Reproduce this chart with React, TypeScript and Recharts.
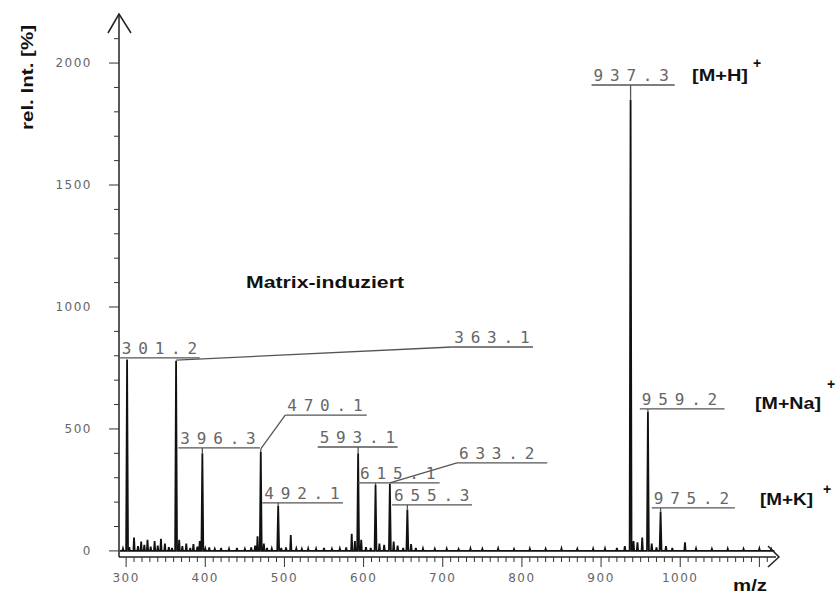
import React from 'react';
import { ComposedChart, Line, Scatter, XAxis, YAxis, ReferenceLine } from 'recharts';

// labelled peaks (m/z, relative intensity)
const peakMz = [301.2, 363.1, 396.3, 470.1, 492.1, 593.1, 615.1, 633.2, 655.3, 937.3, 959.2, 975.2];
const peakInt = [785, 780, 400, 405, 185, 400, 270, 275, 170, 1850, 570, 160];

// small unlabelled peaks / baseline noise
const minorMz = [296, 304, 310, 315, 319, 323, 327, 331, 336, 340, 344, 349, 354, 358, 367, 371, 376, 381, 385, 390, 393, 400, 405, 412, 420, 430, 440, 450, 458, 463, 466, 474, 478, 484, 496, 502, 508, 515, 522, 530, 540, 550, 560, 570, 578, 585, 589, 597, 603, 609, 620, 626, 638, 643, 650, 660, 666, 675, 690, 705, 720, 735, 750, 770, 790, 810, 830, 850, 870, 890, 905, 920, 930, 941, 946, 952, 964, 970, 982, 990, 1006, 1020, 1040, 1060, 1080, 1100, 1115];
const minorInt = [10, 15, 55, 20, 38, 25, 45, 18, 40, 22, 50, 30, 15, 12, 45, 20, 30, 12, 28, 18, 40, 10, 14, 8, 12, 9, 12, 8, 14, 22, 60, 30, 12, 10, 12, 14, 65, 10, 8, 10, 9, 12, 8, 10, 14, 70, 40, 45, 15, 12, 30, 25, 38, 22, 12, 28, 12, 10, 8, 9, 7, 10, 8, 10, 7, 9, 8, 10, 8, 9, 10, 12, 20, 40, 35, 55, 30, 14, 20, 12, 35, 10, 8, 9, 8, 10, 7];

// peak annotations: underline from..to at level, plus leader segments
const labels = [
  { text: '301.2', from: 292, to: 393, level: 791, leaders: [] as number[][][] },
  { text: '363.1', from: 712, to: 814, level: 836, leaders: [[[363.1, 782], [712, 836]]] },
  { text: '396.3', from: 366, to: 469, level: 422, leaders: [[[396.3, 422], [396.3, 400]]] },
  { text: '470.1', from: 501, to: 604, level: 557, leaders: [[[470.1, 418], [501, 557]], [[470.1, 418], [470.1, 405]]] },
  { text: '492.1', from: 472, to: 574, level: 197, leaders: [[[492.1, 197], [492.1, 185]]] },
  { text: '593.1', from: 542, to: 643, level: 426, leaders: [[[593.1, 426], [593.1, 400]]] },
  { text: '615.1', from: 593, to: 696, level: 279, leaders: [[[615.1, 279], [615.1, 270]]] },
  { text: '633.2', from: 718, to: 832, level: 361, leaders: [[[633.2, 279], [718, 361]]] },
  { text: '655.3', from: 636, to: 737, level: 189, leaders: [[[655.3, 189], [655.3, 170]]] },
  { text: '937.3', from: 888, to: 993, level: 1910, leaders: [[[937.3, 1910], [937.3, 1850]]] },
  { text: '959.2', from: 949, to: 1056, level: 582, leaders: [[[959.2, 582], [959.2, 570]]] },
  { text: '975.2', from: 964, to: 1069, level: 176, leaders: [[[975.2, 176], [975.2, 160]]] },
];

const xTicks = Array.from({ length: 82 }, (_, k) => 300 + k * 10);
const yTicks = Array.from({ length: 22 }, (_, k) => k * 100);

const spectrum = (() => {
  const pts: { mz: number; i: number }[] = [{ mz: 292, i: 0 }, { mz: 1119, i: 0 }];
  peakMz.forEach((m, k) => {
    pts.push({ mz: m - 1.2, i: 0 }, { mz: m, i: peakInt[k] }, { mz: m + 1.2, i: 0 });
  });
  minorMz.forEach((m, k) => {
    pts.push({ mz: m - 0.8, i: 0 }, { mz: m, i: minorInt[k] }, { mz: m + 0.8, i: 0 });
  });
  return pts.sort((a, b) => a.mz - b.mz);
})();

const labelPoints = labels.map((l) => ({ mz: l.from, i: l.level, text: l.text }));

const XTick = (props: any) => {
  const { x, y, payload } = props;
  const v = payload.value;
  const major = v % 100 === 0;
  return (
    <g>
      <line x1={x} x2={x} y1={y} y2={y + (major ? 10 : 5)} stroke="#333" strokeWidth={1} />
      {major && v <= 1000 && (
        <text x={x} y={y + 25} textAnchor="middle" fontFamily="DejaVu Sans" fontSize={12} letterSpacing={1.5} fill="#666">
          {v}
        </text>
      )}
    </g>
  );
};

const YTick = (props: any) => {
  const { x, y, payload } = props;
  const v = payload.value;
  const major = v % 500 === 0;
  return (
    <g>
      <line x1={x - (major ? 10 : 5)} x2={x} y1={y} y2={y} stroke="#333" strokeWidth={1} />
      {major && (
        <text x={x - 27} y={y + 4} textAnchor="end" fontFamily="DejaVu Sans" fontSize={12} letterSpacing={1.5} fill="#666">
          {v}
        </text>
      )}
    </g>
  );
};

const PeakLabel = (props: any) => {
  const { cx, cy, payload } = props;
  return (
    <text x={cx + 2} y={cy - 4} fontFamily="DejaVu Sans Mono" fontSize={16} letterSpacing={6.8} fill="#666">
      {payload.text}
    </text>
  );
};

const bold = { fontFamily: 'Liberation Sans, Arial, sans-serif', fontWeight: 700, fill: '#111' } as const;

export default function App() {
  return (
    <div style={{ position: 'absolute', left: 0, top: 0, width: 835, height: 597, background: '#fff' }}>
      <ComposedChart width={835} height={597} margin={{ top: 15, right: 59, bottom: 0, left: 0 }}>
        <XAxis
          type="number"
          dataKey="mz"
          domain={[291, 1121]}
          ticks={xTicks}
          interval={0}
          tickSize={0}
          tickMargin={0}
          tick={<XTick />}
          height={40}
          axisLine={{ stroke: '#222', strokeWidth: 1.5 }}
        />
        <YAxis
          type="number"
          dataKey="i"
          domain={[-25, 2197]}
          ticks={yTicks}
          interval={0}
          tickSize={0}
          tickMargin={0}
          tick={<YTick />}
          width={119}
          axisLine={{ stroke: '#222', strokeWidth: 1.5 }}
        />
        <Line
          data={spectrum}
          dataKey="i"
          type="linear"
          stroke="#111"
          strokeWidth={1.8}
          dot={false}
          isAnimationActive={false}
        />
        {labels.map((l) => (
          <ReferenceLine
            key={'u' + l.text}
            segment={[{ x: l.from, y: l.level }, { x: l.to, y: l.level }]}
            stroke="#555"
            strokeWidth={1.3}
          />
        ))}
        {labels.flatMap((l) =>
          l.leaders.map((s, k) => (
            <ReferenceLine
              key={'l' + l.text + k}
              segment={[{ x: s[0][0], y: s[0][1] }, { x: s[1][0], y: s[1][1] }]}
              stroke="#555"
              strokeWidth={1.3}
            />
          ))
        )}
        <Scatter data={labelPoints} dataKey="i" shape={<PeakLabel />} isAnimationActive={false} />
      </ComposedChart>
      <svg width={835} height={597} style={{ position: 'absolute', left: 0, top: 0, pointerEvents: 'none' }}>
        <polyline points="108,33 119,14 131,33" fill="none" stroke="#222" strokeWidth={1.5} />
        <polyline points="768,546 779,557 768,567" fill="none" stroke="#222" strokeWidth={1.5} />
        <text x={0} y={0} transform="translate(33,130) rotate(-90)" fontSize={17} textLength={105} lengthAdjust="spacingAndGlyphs" {...bold}>
          rel. Int. [%]
        </text>
        <text x={246} y={288} fontSize={16} textLength={158} lengthAdjust="spacingAndGlyphs" {...bold}>
          Matrix-induziert
        </text>
        <text x={692} y={81} fontSize={16} textLength={56} lengthAdjust="spacingAndGlyphs" {...bold}>
          [M+H]
        </text>
        <text x={753} y={68} fontSize={14} {...bold}>+</text>
        <text x={755} y={409} fontSize={16} textLength={66} lengthAdjust="spacingAndGlyphs" {...bold}>
          [M+Na]
        </text>
        <text x={827} y={389} fontSize={14} {...bold}>+</text>
        <text x={760} y={505} fontSize={16} textLength={53} lengthAdjust="spacingAndGlyphs" {...bold}>
          [M+K]
        </text>
        <text x={823} y={494} fontSize={14} {...bold}>+</text>
        <text x={733} y={591} fontSize={16} textLength={34} lengthAdjust="spacingAndGlyphs" {...bold}>
          m/z
        </text>
      </svg>
    </div>
  );
}
